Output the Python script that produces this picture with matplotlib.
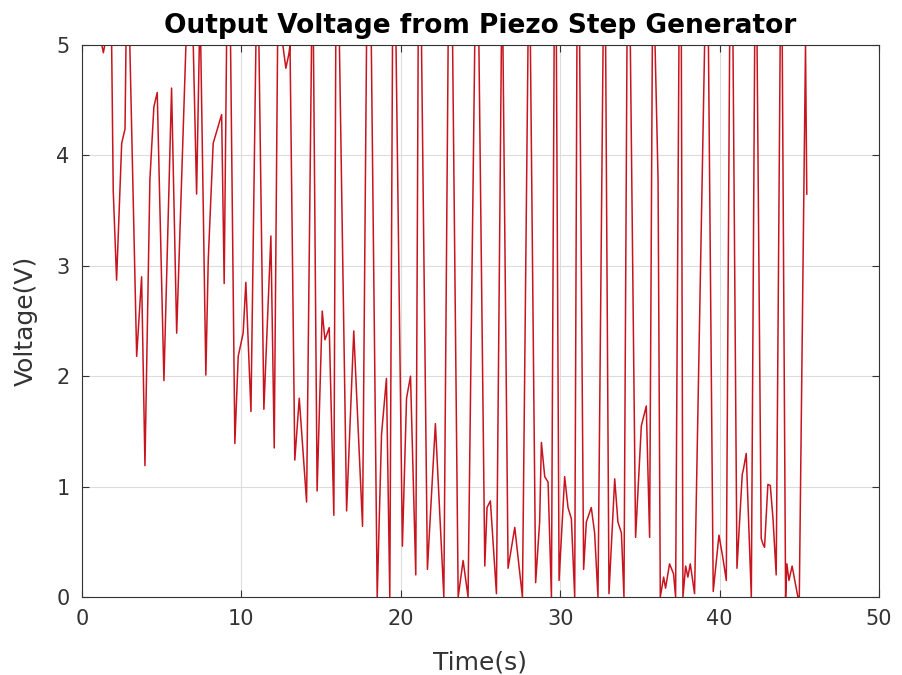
import numpy as np
import matplotlib
matplotlib.use('Agg')
import matplotlib.pyplot as plt

# time (s) / voltage (V)
t = [0.0, 1.25, 1.34, 1.43, 1.86, 1.96, 2.17, 2.49, 2.70, 2.76, 3.0,
     3.43, 3.74, 3.95, 4.26, 4.51, 4.72, 5.14, 5.62, 5.94, 6.52, 6.98,
     7.19, 7.36, 7.45, 7.77, 7.92, 8.23, 8.76, 8.92, 9.07, 9.32, 9.59,
     9.80, 10.11, 10.28, 10.60, 10.91, 11.10, 11.41, 11.85, 12.06, 12.27,
     12.60, 12.79, 12.98, 13.05, 13.35, 13.63, 14.09, 14.40, 14.52, 14.75,
     15.07, 15.24, 15.51, 15.80, 15.92, 16.15, 16.60, 17.05, 17.60, 17.85,
     18.15, 18.52, 18.79, 19.10, 19.31, 19.48, 19.70, 20.10, 20.36, 20.61,
     20.94, 21.09, 21.30, 21.67, 22.17, 22.70, 22.97, 23.25, 23.60, 23.91,
     24.22, 24.64, 24.90, 25.27, 25.41, 25.62, 26.0, 26.31, 26.41, 26.73,
     27.15, 27.63, 27.98, 28.13, 28.46, 28.71, 28.82, 29.03, 29.24, 29.45,
     29.62, 29.76, 29.93, 30.28, 30.49, 30.70, 30.91, 31.05, 31.22, 31.47,
     31.64, 31.95, 32.16, 32.37, 32.69, 32.85, 33.06, 33.42, 33.62, 33.84,
     34.0, 34.19, 34.40, 34.73, 34.94, 35.09, 35.40, 35.61, 35.78, 35.95,
     36.14, 36.28, 36.49, 36.61, 36.86, 37.11, 37.24, 37.45, 37.60, 37.70,
     37.87, 38.01, 38.16, 38.43, 39.06, 39.30, 39.60, 39.96, 40.21, 40.42,
     40.63, 40.84, 41.09, 41.42, 41.50, 41.67, 41.99, 42.20, 42.35, 42.61,
     42.72, 42.82, 43.03, 43.18, 43.35, 43.55, 43.80, 43.93, 44.14, 44.22,
     44.35, 44.55, 44.91, 45.0, 45.39, 45.47]
v = [5.0, 5.0, 4.93, 5.0, 5.0, 3.68, 2.87, 4.11, 4.24, 5.0, 5.0,
     2.18, 2.90, 1.19, 3.78, 4.44, 4.57, 1.96, 4.61, 2.39, 5.0, 5.0,
     3.65, 5.0, 5.0, 2.01, 3.05, 4.11, 4.37, 2.84, 5.0, 5.0, 1.39,
     2.18, 2.39, 2.85, 1.68, 5.0, 5.0, 1.70, 3.27, 1.35, 5.0,
     5.0, 4.79, 4.92, 5.0, 1.24, 1.80, 0.86, 5.0, 5.0, 0.96,
     2.59, 2.33, 2.44, 0.74, 5.0, 5.0, 0.78, 2.41, 0.64, 5.0,
     5.0, 0.0, 1.47, 1.98, 0.0, 5.0, 5.0, 0.46, 1.80, 2.0,
     0.20, 5.0, 5.0, 0.25, 1.57, 0.0, 5.0, 5.0, 0.0, 0.33,
     0.0, 5.0, 5.0, 0.28, 0.81, 0.87, 0.03, 5.0, 5.0, 0.26,
     0.63, 0.0, 5.0, 5.0, 0.13, 0.68, 1.40, 1.09, 1.04, 0.0,
     5.0, 5.0, 0.15, 1.09, 0.81, 0.71, 0.0, 5.0, 5.0, 0.25,
     0.68, 0.81, 0.58, 0.0, 5.0, 5.0, 0.03, 1.07, 0.68, 0.58,
     0.0, 5.0, 5.0, 0.54, 1.14, 1.55, 1.73, 0.54, 5.0, 5.0,
     3.78, 0.0, 0.18, 0.08, 0.30, 0.21, 0.0, 5.0, 5.0, 0.0,
     0.28, 0.18, 0.30, 0.03, 5.0, 5.0, 0.05, 0.56, 0.35, 0.15,
     5.0, 5.0, 0.26, 1.11, 1.16, 1.30, 0.0, 5.0, 5.0, 0.53,
     0.48, 0.45, 1.02, 1.01, 0.71, 0.20, 5.0, 5.0, 0.0, 0.30,
     0.15, 0.28, 0.0, 0.0, 5.0, 3.65]

plt.rcParams['font.family'] = ['DejaVu Sans']

fig = plt.figure(figsize=(9.02, 6.75), dpi=100)
ax = fig.add_axes([0.0909, 0.1156, 0.8836, 0.8177])
ax.plot(t, v, color='#c8141e', lw=1.1)

ax.set_xlim(0, 50)
ax.set_ylim(0, 5)
ax.set_xticks(np.arange(0, 51, 10))
ax.set_yticks(np.arange(0, 6, 1))
ax.grid(True, color='#dcdcdc', lw=0.8)
ax.set_axisbelow(True)
ax.tick_params(direction='in', top=True, right=True, labelsize=15,
               color='#333333', labelcolor='#333333', length=5, pad=9)
for s in ax.spines.values():
    s.set_color('#333333')
    s.set_linewidth(0.8)

ax.set_xlabel('Time(s)', fontsize=18, color='#333333', labelpad=15)
ax.set_ylabel('Voltage(V)', fontsize=18, color='#333333', labelpad=13)
ax.set_title('Output Voltage from Piezo Step Generator', fontsize=19,
             fontweight='bold', pad=9)

plt.savefig('out.png', dpi=100)
